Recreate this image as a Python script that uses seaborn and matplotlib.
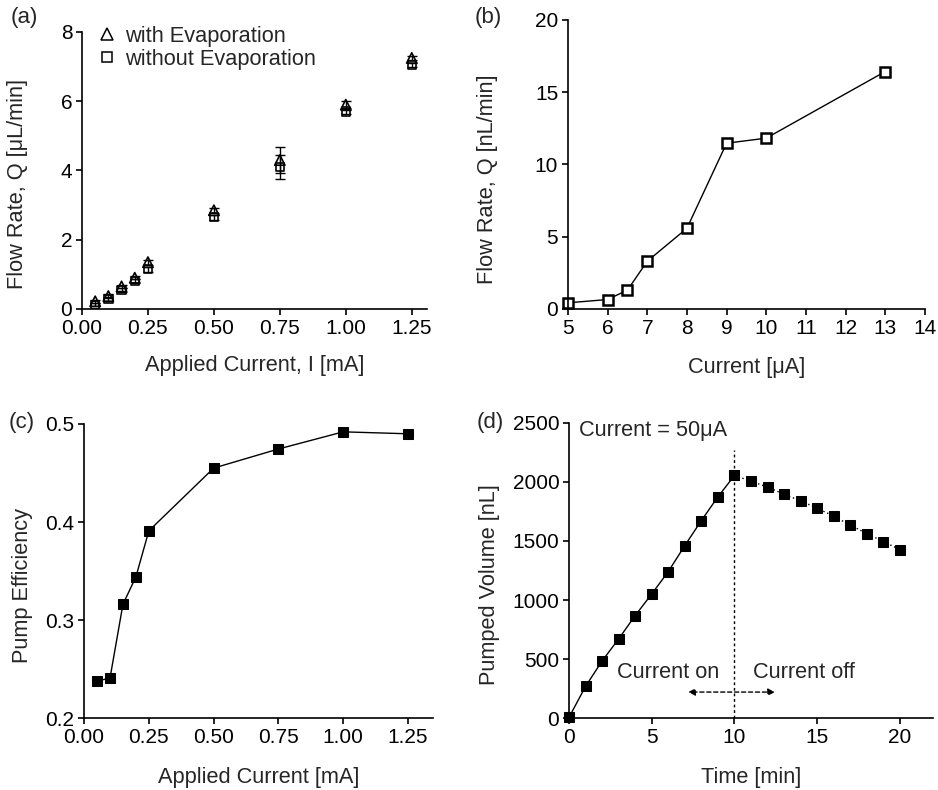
import matplotlib
matplotlib.use("Agg")
import matplotlib.pyplot as plt
import seaborn as sns
import pandas as pd
import numpy as np

# ---------------- data ----------------
a_current = [0.05, 0.10, 0.15, 0.20, 0.25, 0.50, 0.75, 1.00, 1.25]
a_with_evap = [0.22, 0.37, 0.65, 0.90, 1.35, 2.85, 4.30, 5.90, 7.25]
a_with_err = [0.05, 0.05, 0.05, 0.05, 0.07, 0.07, 0.37, 0.10, 0.06]
a_without_evap = [0.12, 0.28, 0.55, 0.80, 1.15, 2.65, 4.10, 5.70, 7.05]
a_without_err = [0.05, 0.05, 0.05, 0.05, 0.07, 0.07, 0.35, 0.06, 0.06]

b_current = [5, 6, 6.5, 7, 8, 9, 10, 13]
b_flow = [0.42, 0.65, 1.30, 3.30, 5.58, 11.47, 11.82, 16.43]

c_current = [0.05, 0.10, 0.15, 0.20, 0.25, 0.50, 0.75, 1.00, 1.25]
c_eff = [0.238, 0.2405, 0.316, 0.344, 0.391, 0.455, 0.4745, 0.492, 0.490]

d_time_on = [0, 1, 2, 3, 4, 5, 6, 7, 8, 9, 10]
d_vol_on = [5, 268, 483, 670, 868, 1051, 1241, 1461, 1673, 1874, 2055]
d_time_off = [10, 11, 12, 13, 14, 15, 16, 17, 18, 19, 20]
d_vol_off = [2055, 2007, 1956, 1896, 1840, 1778, 1710, 1634, 1563, 1495, 1427]

sns.set_style("ticks")
plt.rcParams['font.family'] = ['Liberation Sans', 'DejaVu Sans']
FS = 15
LFS = 15.7
plt.rcParams['font.size'] = FS
plt.rcParams['axes.linewidth'] = 1.2
plt.rcParams['xtick.major.width'] = 1.2
plt.rcParams['ytick.major.width'] = 1.2
plt.rcParams['xtick.major.size'] = 4
plt.rcParams['ytick.major.size'] = 4
plt.rcParams['xtick.labelsize'] = FS
plt.rcParams['ytick.labelsize'] = FS
plt.rcParams['axes.labelsize'] = LFS
plt.rcParams['xtick.color'] = 'black'
plt.rcParams['ytick.color'] = 'black'
plt.rcParams['axes.edgecolor'] = 'black'

fig = plt.figure(figsize=(9.38, 7.90), dpi=100)

ax_a = fig.add_axes([0.0874, 0.609, 0.455 - 0.0874, 0.9595 - 0.609])
ax_b = fig.add_axes([0.6055, 0.609, 0.986 - 0.6055, 0.9747 - 0.609])
ax_c = fig.add_axes([0.0896, 0.0911, 0.4616 - 0.0896, 0.4633 - 0.0911])
ax_d = fig.add_axes([0.6066, 0.0911, 0.9947 - 0.6066, 0.4646 - 0.0911])

for ax in (ax_a, ax_b, ax_c, ax_d):
    sns.despine(ax=ax)
    ax.tick_params(direction='out', pad=3)

# ---------- (a) ----------
df_a = pd.DataFrame({
    "I": a_current * 2,
    "Q": a_with_evap + a_without_evap,
    "err": a_with_err + a_without_err,
    "kind": ["with Evaporation"] * len(a_current) + ["without Evaporation"] * len(a_current),
})
for kind in ["without Evaporation", "with Evaporation"]:
    sub = df_a[df_a.kind == kind]
    ax_a.errorbar(sub.I, sub.Q, yerr=sub.err, fmt='none', ecolor='black',
                  elinewidth=1.0, capsize=3.5, capthick=1.0, zorder=2)
sub_wo = df_a[df_a.kind == "without Evaporation"]
sub_w = df_a[df_a.kind == "with Evaporation"]
sns.scatterplot(data=sub_wo, x="I", y="Q", marker='s', s=36,
                facecolor='none', edgecolor='black', linewidth=1.2,
                ax=ax_a, zorder=3, legend=False)
sns.scatterplot(data=sub_w, x="I", y="Q", marker='^', s=55,
                facecolor='none', edgecolor='black', linewidth=1.2,
                ax=ax_a, zorder=4, legend=False)
h1 = plt.Line2D([], [], marker='^', ls='none', mfc='white', mec='black', ms=9, mew=1.1)
h2 = plt.Line2D([], [], marker='s', ls='none', mfc='white', mec='black', ms=7, mew=1.1)
ax_a.legend([h1, h2], ["with Evaporation", "without Evaporation"], loc='upper left',
            frameon=False, fontsize=LFS, handletextpad=0.3, borderpad=0.0,
            labelspacing=0.1, handlelength=1.0, bbox_to_anchor=(0.01, 1.062))
ax_a.set_xlim(0, 1.307)
ax_a.set_ylim(0, 8)
ax_a.set_xticks([0, 0.25, 0.5, 0.75, 1.0, 1.25])
ax_a.set_xticklabels(["0.00", "0.25", "0.50", "0.75", "1.00", "1.25"])
ax_a.set_yticks([0, 2, 4, 6, 8])
ax_a.set_xlabel("Applied Current, I [mA]")
ax_a.set_ylabel("Flow Rate, Q [\u03bcL/min]")
ax_a.xaxis.set_label_coords(0.5, -0.166)
ax_a.yaxis.set_label_coords(-0.157, 0.45)

# ---------- (b) ----------
df_b = pd.DataFrame({"I": b_current, "Q": b_flow})
sns.lineplot(data=df_b, x="I", y="Q", ax=ax_b, color='black', lw=1.0,
             marker='s', markersize=7, markerfacecolor='white',
             markeredgecolor='black', markeredgewidth=1.8, clip_on=False)
ax_b.set_xlim(5, 14)
ax_b.set_ylim(0, 20)
ax_b.set_xticks(range(5, 15))
ax_b.set_yticks([0, 5, 10, 15, 20])
ax_b.set_xlabel("Current [\u03bcA]")
ax_b.set_ylabel("Flow Rate, Q [nL/min]")
ax_b.xaxis.set_label_coords(0.5, -0.166)
ax_b.yaxis.set_label_coords(-0.196, 0.45)

# ---------- (c) ----------
df_c = pd.DataFrame({"I": c_current, "eff": c_eff})
sns.lineplot(data=df_c, x="I", y="eff", ax=ax_c, color='black', lw=1.0,
             marker='s', markersize=7.4, markerfacecolor='black',
             markeredgecolor='black', clip_on=False)
ax_c.set_xlim(0, 1.346)
ax_c.set_ylim(0.2, 0.5)
ax_c.set_xticks([0, 0.25, 0.5, 0.75, 1.0, 1.25])
ax_c.set_xticklabels(["0.00", "0.25", "0.50", "0.75", "1.00", "1.25"])
ax_c.set_yticks([0.2, 0.3, 0.4, 0.5])
ax_c.set_yticklabels(["0.2", "0.3", "0.4", "0.5"])
ax_c.set_xlabel("Applied Current [mA]")
ax_c.set_ylabel("Pump Efficiency")
ax_c.xaxis.set_label_coords(0.5, -0.167)
ax_c.yaxis.set_label_coords(-0.146, 0.452)

# ---------- (d) ----------
df_on = pd.DataFrame({"t": d_time_on, "V": d_vol_on})
df_off = pd.DataFrame({"t": d_time_off, "V": d_vol_off})
sns.lineplot(data=df_on, x="t", y="V", ax=ax_d, color='black', lw=1.0,
             marker='s', markersize=7, markerfacecolor='black',
             markeredgecolor='black', clip_on=False)
sns.lineplot(data=df_off, x="t", y="V", ax=ax_d, color='black', lw=1.0,
             linestyle=(0, (1, 2)),
             marker='s', markersize=7, markerfacecolor='black',
             markeredgecolor='black', clip_on=False)
ax_d.plot([10, 10], [0, 2275], color='black', lw=1.0, ls=(0, (2, 2)))
ax_d.annotate("", xy=(7.2, 220), xytext=(12.45, 220),
              arrowprops=dict(arrowstyle='<|-|>', color='black', lw=1.0,
                              ls=(0, (3, 2)), mutation_scale=10, shrinkA=0, shrinkB=0))
ax_d.text(6.0, 390, "Current on", ha='center', va='center', fontsize=LFS)
ax_d.text(14.2, 390, "Current off", ha='center', va='center', fontsize=LFS)
ax_d.text(0.6, 2440, "Current = 50\u03bcA", ha='left', va='center', fontsize=LFS)
ax_d.set_xlim(0, 22)
ax_d.set_ylim(0, 2500)
ax_d.set_xticks([0, 5, 10, 15, 20])
ax_d.set_yticks([0, 500, 1000, 1500, 2000, 2500])
ax_d.set_xlabel("Time [min]")
ax_d.set_ylabel("Pumped Volume [nL]")
ax_d.xaxis.set_label_coords(0.5, -0.167)
ax_d.yaxis.set_label_coords(-0.19, 0.452)

# panel labels
PFS = 16
fig.text(0.011, 0.978, "(a)", fontsize=PFS, va='center', ha='left')
fig.text(0.506, 0.978, "(b)", fontsize=PFS, va='center', ha='left')
fig.text(0.009, 0.465, "(c)", fontsize=PFS, va='center', ha='left')
fig.text(0.508, 0.465, "(d)", fontsize=PFS, va='center', ha='left')

fig.savefig("out.png", dpi=100)
